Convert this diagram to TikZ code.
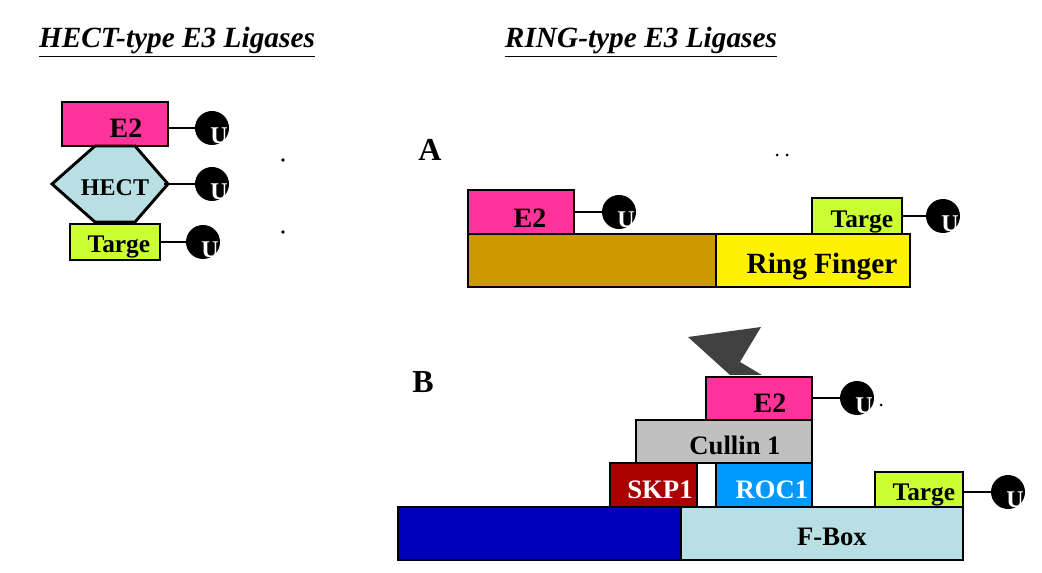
\documentclass[tikz,border=0pt]{standalone}
\usepackage{fontspec}
\setmainfont{Liberation Serif}
\begin{document}
\begin{tikzpicture}[x=0.75pt,y=-0.75pt,
 bx/.style={draw=black,line width=2.2pt,font=\bfseries\fontsize{21}{21}\selectfont},
 ub/.style={circle,fill=black,minimum size=25.5pt,inner sep=0pt},
 ut/.style={text=white,font=\bfseries\fontsize{18}{18}\selectfont},
 ln/.style={line width=2.2pt},
 ttl/.style={font=\bfseries\itshape\fontsize{22}{22}\selectfont}]
\useasboundingbox (0,0) rectangle (1042,573);
\definecolor{pk}{HTML}{FF3399}\definecolor{lb}{HTML}{B8E0E4}\definecolor{lm}{HTML}{CCFF33}
\node[ttl] (t1) at (177,42) {\underline{HECT-type E3 Ligases}};
\node[ttl] (t2) at (641,42) {\underline{RING-type E3 Ligases}};
% HECT
\draw[ln,fill=pk] (62,102) rectangle (168,146);
\node[font=\bfseries\fontsize{21}{21}\selectfont] (he2) at (126,128) {E2};
\draw[ln,fill=lb] (52,184)--(95,146)--(135,146)--(168,184)--(135,222)--(95,222)--cycle;
\node[font=\bfseries\fontsize{18}{18}\selectfont] (hh) at (115,188) {HECT};
\draw[ln,fill=lm] (70,224) rectangle (160,260);
\node[font=\bfseries\fontsize{19}{19}\selectfont,anchor=west] (ht) at (83,247) {Targe};
\node[ub] (u1) at (212,128) {}; \node[ub] (u2) at (212,184) {}; \node[ub] (u3) at (203,242) {};
\draw[ln] (168,128)--(u1); \draw[ln] (164,184)--(u2); \draw[ln] (160,242)--(u3);
\foreach \p in {(219,136),(219,192),(210,250)} \node[ut] at \p {U};
\fill (283,160) circle (1.8); \fill (283,232) circle (1.8);
% A
\node[font=\bfseries\fontsize{24}{24}\selectfont] (la) at (430,150) {A};
\fill (777,155) circle (1.5); \fill (787,155) circle (1.5);
\draw[ln,fill=pk] (468,190) rectangle (574,234);
\node[font=\bfseries\fontsize{21}{21}\selectfont] at (530,218) {E2};
\draw[ln,fill={rgb,255:red,204;green,153;blue,0}] (468,234) rectangle (716,287);
\draw[ln,fill=yellow] (716,234) rectangle (910,287);
\node[font=\bfseries\fontsize{22}{22}\selectfont] at (822,267) {Ring Finger};
\draw[ln,fill=lm] (812,198) rectangle (902,234);
\node[font=\bfseries\fontsize{19}{19}\selectfont,anchor=west] at (826,222) {Targe};
\node[ub] (u4) at (619,212) {}; \node[ub] (u5) at (943,216) {};
\draw[ln] (574,212)--(u4); \draw[ln] (902,216)--(u5);
\node[ut] at (626,220) {U}; \node[ut] at (950,224) {U};
% B
\node[font=\bfseries\fontsize{24}{24}\selectfont] (lb) at (423,382) {B};
\fill[black!75] (688,337)--(761,327)--(740,362)--(762,375)--(730,375)--cycle;
\draw[ln,fill=pk] (706,377) rectangle (812,420);
\node[font=\bfseries\fontsize{21}{21}\selectfont] at (770,403) {E2};
\node[ub] (u6) at (857,398) {}; \draw[ln] (812,398)--(u6);
\node[ut] at (864,406) {U}; \fill (881,405) circle (1.5);
\draw[ln,fill={rgb,255:red,192;green,192;blue,192}] (636,420) rectangle (812,463);
\node[font=\bfseries\fontsize{20}{20}\selectfont] at (735,445) {Cullin 1};
\draw[ln,fill={rgb,255:red,170;green,0;blue,0}] (610,463) rectangle (697,507);
\node[font=\bfseries\fontsize{20}{20}\selectfont,text=white] at (660,490) {SKP1};
\draw[ln,fill={rgb,255:red,0;green,153;blue,255}] (716,463) rectangle (812,507);
\node[font=\bfseries\fontsize{20}{20}\selectfont,text=white] at (772,490) {ROC1};
\draw[ln,fill={rgb,255:red,0;green,0;blue,187}] (398,507) rectangle (681,560);
\draw[ln,fill=lb] (681,507) rectangle (963,560);
\node[font=\bfseries\fontsize{20}{20}\selectfont] at (832,537) {F-Box};
\draw[ln,fill=lm] (875,472) rectangle (963,507);
\node[font=\bfseries\fontsize{19}{19}\selectfont,anchor=west] at (888,495) {Targe};
\node[ub] (u7) at (1008,492) {}; \draw[ln] (963,492)--(u7);
\node[ut] at (1015,500) {U};
\end{tikzpicture}
\end{document}
